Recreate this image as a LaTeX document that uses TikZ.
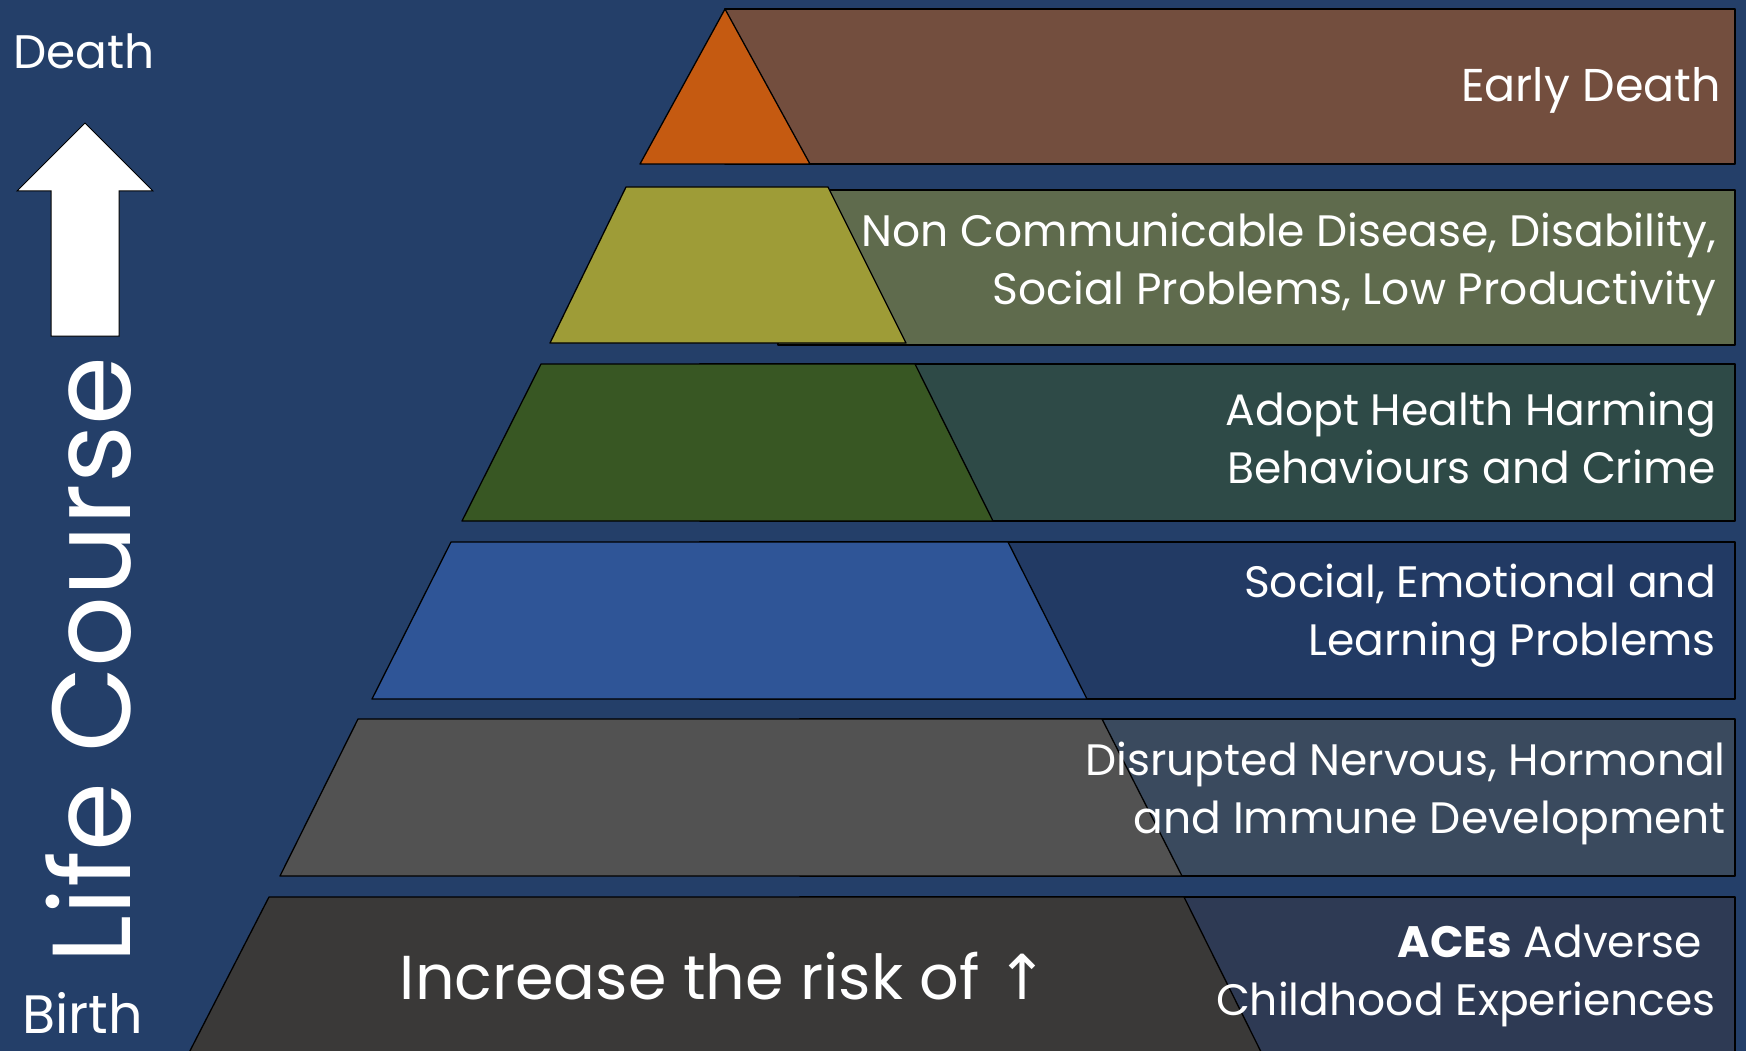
\documentclass[tikz,border=0pt]{standalone}
\usepackage{fontspec}
\setmainfont{Poppins}
\newfontfamily\arrowfont{DejaVu Sans}
\usetikzlibrary{positioning}
\definecolor{bgblue}{HTML}{243F69}
\definecolor{deathband}{HTML}{734E3E}
\definecolor{deathtop}{HTML}{C55A11}
\definecolor{ncdband}{HTML}{5F6B4D}
\definecolor{ncdtop}{HTML}{9E9C37}
\definecolor{harmband}{HTML}{2E4A47}
\definecolor{harmtop}{HTML}{385723}
\definecolor{socband}{HTML}{223A64}
\definecolor{soctop}{HTML}{2F5597}
\definecolor{nervband}{HTML}{3A4A5E}
\definecolor{nervtop}{HTML}{525252}
\definecolor{aceband}{HTML}{2E3A54}
\definecolor{acetop}{HTML}{3A3938}
\tikzset{
  x=1pt,
  y=-1pt,
  outline/.style={
    draw=black,
    line width=1.3pt,
    line join=round
  },
  band text/.style={
    text=white,
    align=right,
    anchor=east,
    inner sep=0pt,
    font=\fontsize{44}{58}\selectfont
  },
  side text/.style={
    text=white,
    inner sep=0pt,
    font=\fontsize{50}{60}\selectfont
  }
}

\begin{document}
\begin{tikzpicture}
\useasboundingbox (0,0) rectangle (1746,1051);
\clip (0,0) rectangle (1746,1051);
\fill[bgblue] (0,0) rectangle (1746,1051);
% bands on the right
\draw[outline,fill=deathband] (725,9)   rectangle (1735,164);
\draw[outline,fill=ncdband]   (778,190) rectangle (1735,345);
\draw[outline,fill=harmband]  (700,364) rectangle (1735,521);
\draw[outline,fill=socband]   (700,542) rectangle (1735,699);
\draw[outline,fill=nervband]  (800,719) rectangle (1735,876);
\draw[outline,fill=aceband]   (800,897) rectangle (1735,1080);
% the pyramid
\draw[outline,fill=deathtop] (725,9) -- (810,164) -- (640,164) -- cycle;
\draw[outline,fill=ncdtop]  (626,187) -- (828,187)  -- (906,343)  -- (550,343) -- cycle;
\draw[outline,fill=harmtop] (541,364) -- (915,364)  -- (993,521)  -- (462,521) -- cycle;
\draw[outline,fill=soctop]  (451,542) -- (1008,542) -- (1087,699) -- (372,699) -- cycle;
\draw[outline,fill=nervtop] (358,719) -- (1102,719) -- (1182,876) -- (280,876) -- cycle;
\draw[outline,fill=acetop]  (269,897) -- (1184,897) -- (1275,1080) -- (175,1080) -- cycle;
% life course arrow
\draw[line width=1pt,fill=white] (51,336) -- (51,191) -- (17,191) -- (85,123)
  -- (153,191) -- (119,191) -- (119,336) -- cycle;
\node[side text,anchor=base west,font=\fontsize{47}{60}\selectfont] (death) at (13,69) {Death};
\node[side text,anchor=base west,font=\fontsize{54}{60}\selectfont] (birth) at (22,1033) {Birth};
\node[text=white,inner sep=0pt,rotate=90,anchor=base,
  font=\fontsize{111}{130}\selectfont] (course) at (130,660) {Life Course};
% labels
\node[band text,anchor=base east,font=\fontsize{46}{58}\selectfont] (early) at (1721,102) {Early Death};
\node[band text] (ncd)  at (1716,264) {Non Communicable Disease, Disability,\\Social Problems, Low Productivity};
\node[band text] (harm) at (1716,438) {Adopt Health Harming\\Behaviours and Crime};
\node[band text] (soc)  at (1716,616) {Social, Emotional and\\Learning Problems};
\node[band text] (nerv) at (1726,793) {Disrupted Nervous, Hormonal\\and Immune Development};
\node[band text] (aces) at (1716,976) {\textbf{ACEs} Adverse\hspace*{14pt}\\Childhood Experiences};
\node[text=white,inner sep=0pt,anchor=base,font=\fontsize{62}{70}\selectfont]
  (risk) at (724,999) {Increase the risk of {\arrowfont ↑}};
\end{tikzpicture}
\end{document}
